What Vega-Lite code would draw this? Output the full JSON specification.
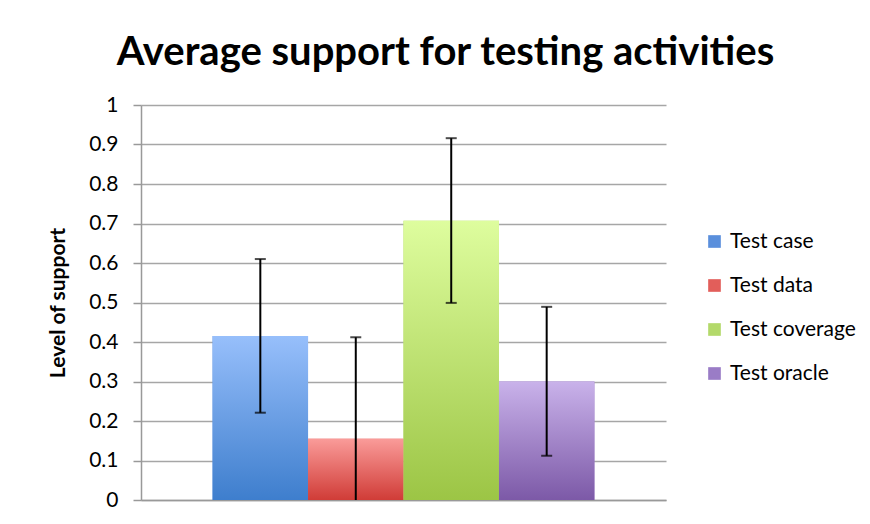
{
  "$schema": "https://vega.github.io/schema/vega-lite/v6.json",
  "autosize": "none",
  "width": 525,
  "height": 395,
  "padding": {"left": 141, "top": 105, "right": 204, "bottom": 24},
  "background": "white",
  "title": {
    "text": "Average support for testing activities",
    "font": "Lato",
    "fontSize": 40,
    "fontWeight": "bold",
    "color": "black",
    "anchor": "middle",
    "dx": 42,
    "offset": 21
  },
  "config": {
    "view": {"stroke": null},
    "font": "Lato"
  },
  "data": {
    "values": [
      {"activity": "Test case", "mean": 0.415, "lo": 0.221, "hi": 0.61},
      {"activity": "Test data", "mean": 0.155, "lo": -0.1, "hi": 0.412},
      {"activity": "Test coverage", "mean": 0.707, "lo": 0.499, "hi": 0.916},
      {"activity": "Test oracle", "mean": 0.3, "lo": 0.112, "hi": 0.489}
    ]
  },
  "encoding": {
    "x": {
      "field": "activity",
      "type": "nominal",
      "sort": ["Test case", "Test data", "Test coverage", "Test oracle"],
      "scale": {"paddingInner": 0, "paddingOuter": 0.75},
      "axis": {"labels": false, "ticks": false, "title": null, "domainColor": "#999999", "domainWidth": 1.5}
    },
    "y": {
      "field": "mean", "type": "quantitative",
      "scale": {"domain": [0, 1], "nice": false},
      "axis": {
        "values": [0, 0.1, 0.2, 0.3, 0.4, 0.5, 0.6, 0.7, 0.8, 0.9, 1],
        "format": "~g",
        "labelOverlap": false,
        "title": "Level of support",
        "titleFont": "Lato", "titleFontSize": 21, "titleFontWeight": "bold", "titleColor": "black",
        "titlePadding": 20,
        "labelFont": "Lato", "labelFontSize": 21, "labelColor": "black",
        "labelPadding": 15,
        "tickSize": 8, "tickColor": "#999999", "tickWidth": 1.5,
        "domainColor": "#999999", "domainWidth": 1.5,
        "grid": true, "gridColor": "#a6a6a6", "gridWidth": 1.5
      }
    }
  },
  "layer": [
    {
      "mark": {"type": "bar"},
      "encoding": {
        "color": {
          "field": "activity", "type": "nominal",
          "sort": ["Test case", "Test data", "Test coverage", "Test oracle"],
          "scale": {
            "domain": ["Test case", "Test data", "Test coverage", "Test oracle"],
            "range": ["#5a8fdc", "#e25e5a", "#b3d96a", "#9a7cc6"]
          },
          "legend": {
            "title": null,
            "orient": "none",
            "legendX": 563,
            "legendY": 126,
            "padding": 0,
            "symbolType": "square",
            "symbolSize": 160,
            "symbolStrokeWidth": 0,
            "labelFont": "Lato",
            "labelFontSize": 21,
            "labelColor": "black",
            "labelOffset": 5,
            "rowPadding": 22
          }
        }
      }
    },
    {
      "transform": [{"filter": "datum.activity === 'Test case'"}],
      "mark": {"type": "bar", "fill": {"gradient": "linear", "x1": 0, "y1": 0, "x2": 0, "y2": 1, "stops": [{"offset": 0, "color": "#97bffb"}, {"offset": 1, "color": "#3e7ecd"}]}}
    },
    {
      "transform": [{"filter": "datum.activity === 'Test data'"}],
      "mark": {"type": "bar", "fill": {"gradient": "linear", "x1": 0, "y1": 0, "x2": 0, "y2": 1, "stops": [{"offset": 0, "color": "#fa9b99"}, {"offset": 1, "color": "#d03c37"}]}}
    },
    {
      "transform": [{"filter": "datum.activity === 'Test coverage'"}],
      "mark": {"type": "bar", "fill": {"gradient": "linear", "x1": 0, "y1": 0, "x2": 0, "y2": 1, "stops": [{"offset": 0, "color": "#defd9e"}, {"offset": 1, "color": "#9cc545"}]}}
    },
    {
      "transform": [{"filter": "datum.activity === 'Test oracle'"}],
      "mark": {"type": "bar", "fill": {"gradient": "linear", "x1": 0, "y1": 0, "x2": 0, "y2": 1, "stops": [{"offset": 0, "color": "#c9b2ea"}, {"offset": 1, "color": "#7c59a7"}]}}
    },
    {
      "mark": {"type": "rule", "color": "black", "strokeWidth": 2, "clip": true},
      "encoding": {
        "y": {
          "field": "lo", "type": "quantitative",
          "axis": {
            "values": [0, 0.1, 0.2, 0.3, 0.4, 0.5, 0.6, 0.7, 0.8, 0.9, 1],
            "format": "~g",
            "labelOverlap": false,
            "title": "Level of support",
            "titleFont": "Lato", "titleFontSize": 21, "titleFontWeight": "bold", "titleColor": "black",
            "titlePadding": 20,
            "labelFont": "Lato", "labelFontSize": 21, "labelColor": "black",
            "labelPadding": 15,
            "tickSize": 8, "tickColor": "#999999", "tickWidth": 1.5,
            "domainColor": "#999999", "domainWidth": 1.5,
            "grid": true, "gridColor": "#a6a6a6", "gridWidth": 1.5
          }
        },
        "y2": {"field": "hi"}
      }
    },
    {
      "mark": {"type": "tick", "color": "black", "thickness": 2, "size": 11, "clip": true},
      "encoding": {
        "y": {
          "field": "hi", "type": "quantitative",
          "axis": {
            "values": [0, 0.1, 0.2, 0.3, 0.4, 0.5, 0.6, 0.7, 0.8, 0.9, 1],
            "format": "~g",
            "labelOverlap": false,
            "title": "Level of support",
            "titleFont": "Lato", "titleFontSize": 21, "titleFontWeight": "bold", "titleColor": "black",
            "titlePadding": 20,
            "labelFont": "Lato", "labelFontSize": 21, "labelColor": "black",
            "labelPadding": 15,
            "tickSize": 8, "tickColor": "#999999", "tickWidth": 1.5,
            "domainColor": "#999999", "domainWidth": 1.5,
            "grid": true, "gridColor": "#a6a6a6", "gridWidth": 1.5
          }
        }
      }
    },
    {
      "mark": {"type": "tick", "color": "black", "thickness": 2, "size": 11, "clip": true},
      "encoding": {
        "y": {
          "field": "lo", "type": "quantitative",
          "axis": {
            "values": [0, 0.1, 0.2, 0.3, 0.4, 0.5, 0.6, 0.7, 0.8, 0.9, 1],
            "format": "~g",
            "labelOverlap": false,
            "title": "Level of support",
            "titleFont": "Lato", "titleFontSize": 21, "titleFontWeight": "bold", "titleColor": "black",
            "titlePadding": 20,
            "labelFont": "Lato", "labelFontSize": 21, "labelColor": "black",
            "labelPadding": 15,
            "tickSize": 8, "tickColor": "#999999", "tickWidth": 1.5,
            "domainColor": "#999999", "domainWidth": 1.5,
            "grid": true, "gridColor": "#a6a6a6", "gridWidth": 1.5
          }
        }
      }
    }
  ]
}
